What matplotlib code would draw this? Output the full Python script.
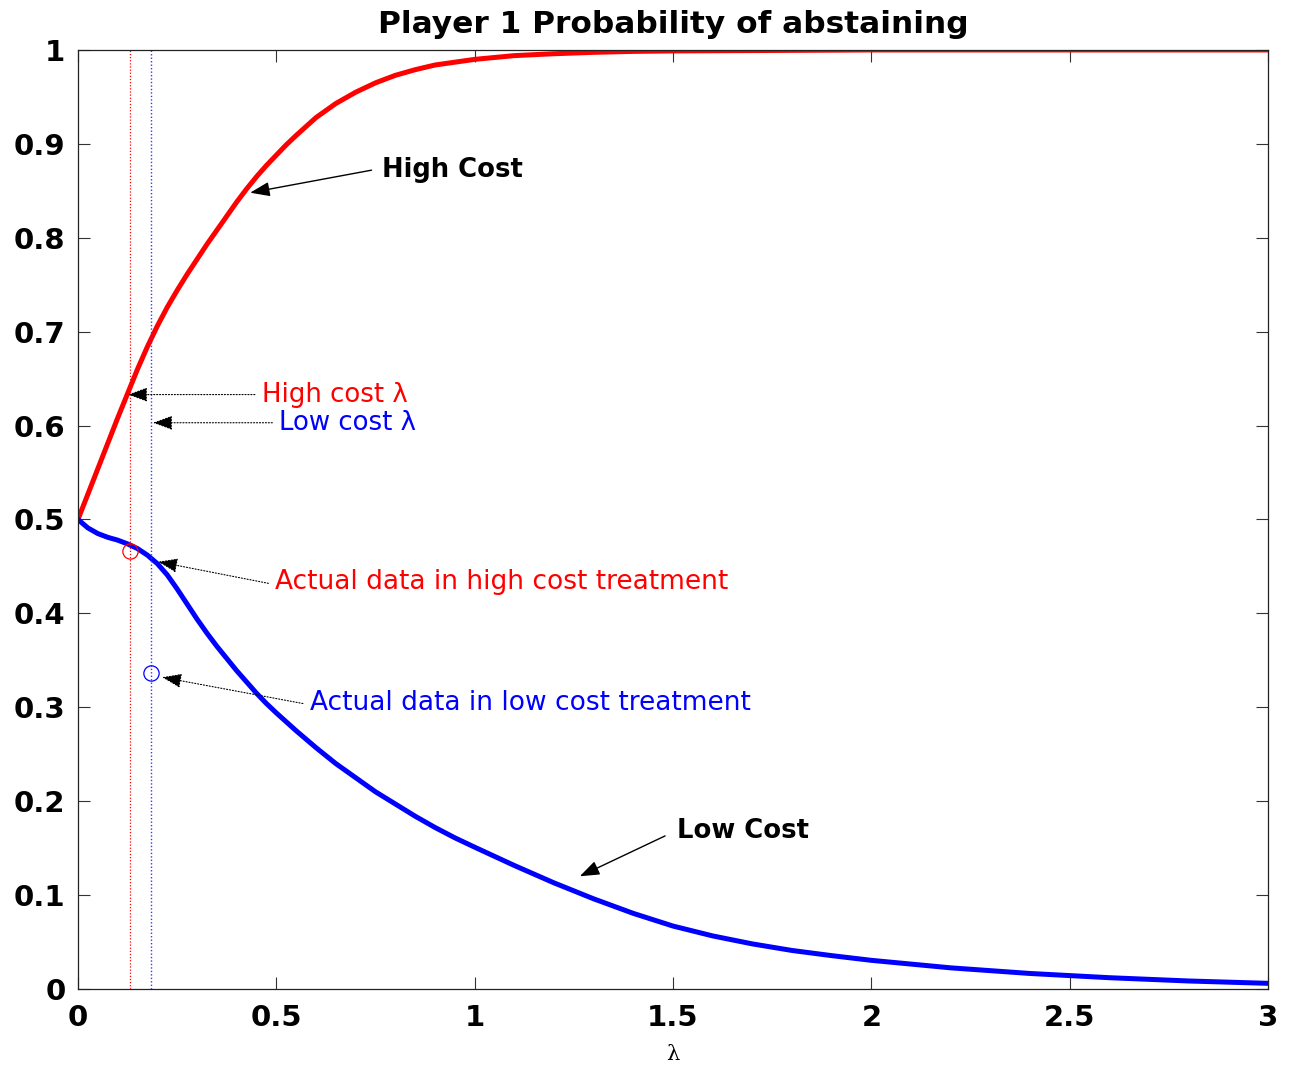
import matplotlib
matplotlib.use('Agg')
import matplotlib.pyplot as plt

plt.rcParams['font.family'] = ['DejaVu Sans']

# logit equilibrium curves, probability of abstaining vs lambda
lam_high = [0, 0.025, 0.05, 0.075, 0.1, 0.125, 0.15, 0.175, 0.2, 0.225,
            0.25, 0.275, 0.3, 0.325, 0.35, 0.375, 0.4, 0.425, 0.45, 0.475,
            0.5, 0.525, 0.55, 0.6, 0.65, 0.7, 0.75, 0.8, 0.85, 0.9, 0.95,
            1.0, 1.1, 1.2, 1.3, 1.4, 1.5, 1.75, 2.0, 2.5, 3.0]
p_high = [0.500, 0.527, 0.554, 0.581, 0.608, 0.634, 0.660, 0.684, 0.706,
          0.726, 0.744, 0.761, 0.777, 0.793, 0.808, 0.823, 0.838, 0.852,
          0.865, 0.877, 0.888, 0.899, 0.909, 0.928, 0.943, 0.955, 0.965,
          0.973, 0.979, 0.984, 0.987, 0.990, 0.994, 0.996, 0.9975, 0.9985,
          0.999, 0.9995, 1.0, 1.0, 1.0]

lam_low = [0, 0.025, 0.05, 0.075, 0.1, 0.125, 0.15, 0.175, 0.2, 0.225,
           0.25, 0.275, 0.3, 0.325, 0.35, 0.375, 0.4, 0.425, 0.45, 0.475,
           0.5, 0.55, 0.6, 0.65, 0.7, 0.75, 0.8, 0.85, 0.9, 0.95, 1.0, 1.1,
           1.2, 1.3, 1.4, 1.5, 1.6, 1.7, 1.8, 1.9, 2.0, 2.2, 2.4, 2.6, 2.8,
           3.0]
p_low = [0.500, 0.491, 0.485, 0.481, 0.478, 0.474, 0.469, 0.462, 0.453,
         0.441, 0.426, 0.410, 0.394, 0.379, 0.365, 0.352, 0.339, 0.327,
         0.315, 0.304, 0.294, 0.275, 0.257, 0.240, 0.225, 0.210, 0.197,
         0.184, 0.172, 0.161, 0.151, 0.1315, 0.113, 0.096, 0.0805, 0.067,
         0.0565, 0.048, 0.041, 0.0355, 0.0305, 0.0225, 0.0165, 0.012, 0.0085,
         0.006]

# estimated lambdas and observed abstain rates
lam_hat_high = 0.13
lam_hat_low = 0.184
obs_high = 0.466
obs_low = 0.336

fig = plt.figure(figsize=(12.91, 10.68), dpi=100)
ax = fig.add_axes([0.0604, 0.074, 0.9218, 0.8792])

ax.plot(lam_high, p_high, color='red', lw=3.6, solid_joinstyle='round')
ax.plot(lam_low, p_low, color='blue', lw=3.6, solid_joinstyle='round')
ax.axvline(lam_hat_high, color='red', ls=(0, (1, 1.5)), lw=0.9)
ax.axvline(lam_hat_low, color='#3535ff', ls=(0, (1, 1.5)), lw=1.0)
ax.plot([lam_hat_high], [obs_high], 'o', mfc='none', mec='red', ms=11, mew=0.9)
ax.plot([lam_hat_low], [obs_low], 'o', mfc='none', mec='blue', ms=11, mew=0.9)

ax.set_xlim(0, 3)
ax.set_ylim(0, 1)
ax.set_xticks([0, 0.5, 1, 1.5, 2, 2.5, 3])
ax.set_xticklabels(['0', '0.5', '1', '1.5', '2', '2.5', '3'])
ax.set_yticks([0, 0.1, 0.2, 0.3, 0.4, 0.5, 0.6, 0.7, 0.8, 0.9, 1])
ax.set_yticklabels(['0', '0.1', '0.2', '0.3', '0.4', '0.5', '0.6', '0.7',
                    '0.8', '0.9', '1'])
ax.tick_params(direction='in', length=8.5, width=0.8, color='#333333',
               top=True, right=True, labelsize=21)
ax.tick_params(axis='x', pad=11)
ax.tick_params(axis='y', pad=9)
for lab in ax.get_xticklabels() + ax.get_yticklabels():
    lab.set_fontweight('bold')
for sp in ax.spines.values():
    sp.set_linewidth(0.9)
    sp.set_color('#222222')

ax.set_title('Player 1 Probability of abstaining', fontsize=22.5,
             fontweight='bold', pad=12)
ax.set_xlabel('λ', fontsize=15, family='DejaVu Serif', labelpad=9)


def arrow(tip, tail, dotted=False):
    style = '-|>,head_length=0.6,head_width=0.22'
    ax.annotate('', xy=tip, xytext=tail,
                arrowprops=dict(arrowstyle=style, color='black',
                                lw=0.8 if dotted else 1.0,
                                ls=':' if dotted else '-',
                                mutation_scale=20, shrinkA=0, shrinkB=0))


arrow((0.434, 0.848), (0.74, 0.872))
ax.text(0.766, 0.872, 'High Cost', fontsize=18.6, fontweight='bold',
        va='center', ha='left')

arrow((0.126, 0.633), (0.446, 0.633), dotted=True)
ax.text(0.464, 0.633, 'High cost λ', fontsize=18.7, color='red',
        va='center', ha='left')

arrow((0.189, 0.603), (0.49, 0.603), dotted=True)
ax.text(0.507, 0.603, 'Low cost λ', fontsize=18.7, color='blue',
        va='center', ha='left')

arrow((0.202, 0.455), (0.48, 0.432), dotted=True)
ax.text(0.497, 0.433, 'Actual data in high cost treatment', fontsize=19,
        color='red', va='center', ha='left')

arrow((0.212, 0.332), (0.567, 0.304), dotted=True)
ax.text(0.585, 0.305, 'Actual data in low cost treatment', fontsize=19,
        color='blue', va='center', ha='left')

arrow((1.265, 0.120), (1.48, 0.163))
ax.text(1.51, 0.168, 'Low Cost', fontsize=18.6, fontweight='bold',
        va='center', ha='left')

fig.savefig('out.png', dpi=100)
